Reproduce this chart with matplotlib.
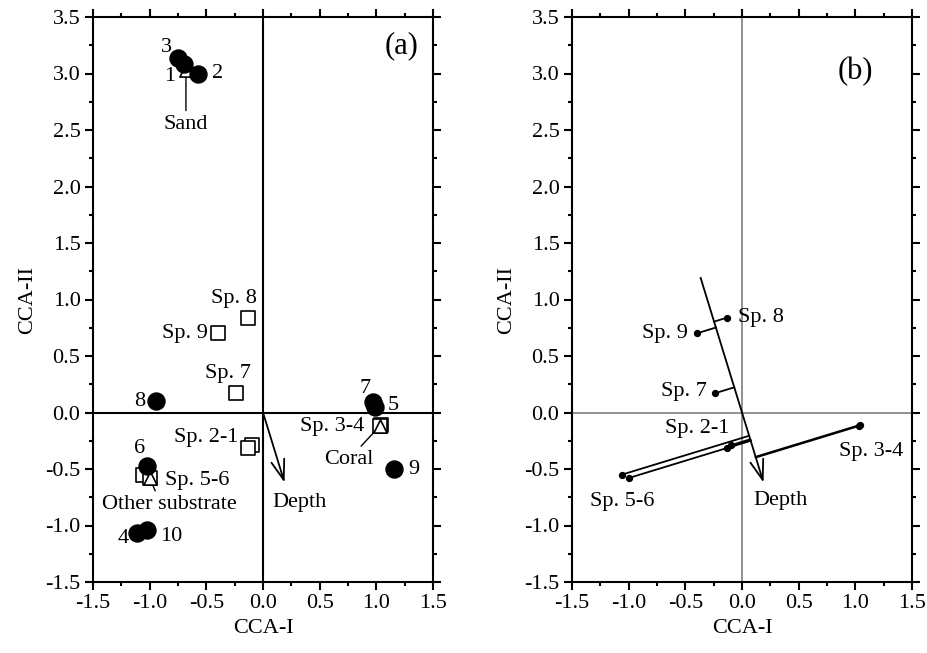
import numpy as np
import matplotlib.pyplot as plt
from matplotlib.ticker import MultipleLocator

plt.rcParams['font.family'] = ['Liberation Serif', 'DejaVu Serif']
plt.rcParams['font.size'] = 16

# site scores (filled circles)
site_names = ['1', '2', '3', '4', '5', '6', '7', '8', '9', '10']
site_x = [-0.70, -0.57, -0.75, -1.11, 0.99, -1.02, 0.97, -0.94, 1.16, -1.02]
site_y = [3.08, 3.00, 3.14, -1.07, 0.05, -0.47, 0.09, 0.10, -0.50, -1.04]

# species scores
sp_names = ['Sp. 1', 'Sp. 2', 'Sp. 3', 'Sp. 4', 'Sp. 5', 'Sp. 6', 'Sp. 7', 'Sp. 8', 'Sp. 9']
sp_x = [-0.10, -0.13, 1.04, 1.03, -1.06, -1.00, -0.24, -0.13, -0.40]
sp_y = [-0.29, -0.31, -0.11, -0.12, -0.55, -0.58, 0.17, 0.84, 0.70]

# substrate centroids
sub_names = ['Sand', 'Coral', 'Other substrate']
sub_x = [-0.68, 1.03, -1.00]
sub_y = [3.03, -0.12, -0.58]

# depth biplot vector
depth_vec = (0.19, -0.62)
depth_back = -1.92   # extension of the depth axis beyond the origin in (b)

fig = plt.figure(figsize=(9.28, 6.53), dpi=100)
ax_a = fig.add_axes([93 / 928, 71 / 653, 340 / 928, 565 / 653])
ax_b = fig.add_axes([572 / 928, 71 / 653, 340 / 928, 565 / 653])

for ax in (ax_a, ax_b):
    ax.set_xlim(-1.5, 1.5)
    ax.set_ylim(-1.5, 3.5)
    ax.xaxis.set_major_locator(MultipleLocator(0.5))
    ax.xaxis.set_minor_locator(MultipleLocator(0.25))
    ax.yaxis.set_major_locator(MultipleLocator(0.5))
    ax.yaxis.set_minor_locator(MultipleLocator(0.25))
    ax.xaxis.set_major_formatter(lambda v, p: f'{v:.1f}')
    ax.yaxis.set_major_formatter(lambda v, p: f'{v:.1f}')
    ax.tick_params(which='both', direction='out', top=True, right=True,
                   width=1.5, labelsize=16, pad=3)
    ax.tick_params(which='major', length=6)
    ax.tick_params(which='minor', length=3)
    for s in ax.spines.values():
        s.set_linewidth(1.5)
    ax.set_xlabel('CCA-I', fontsize=16, labelpad=4)
    ax.set_ylabel('CCA-II', fontsize=16, labelpad=6)


def label(ax, text, x, y, dx, dy, ha='center'):
    ax.annotate(text, (x, y), xytext=(dx, dy), textcoords='offset points',
                ha=ha, va='center', fontsize=16)


arrow_style = '->,head_length=0.9,head_width=0.3'

# ---------- (a) ----------
ax_a.axhline(0, color='black', lw=1.5, zorder=1)
ax_a.axvline(0, color='black', lw=1.5, zorder=1)

ax_a.scatter(sp_x, sp_y, marker='s', s=110, facecolor='white',
             edgecolor='black', linewidth=1.2, zorder=3)
ax_a.scatter(sub_x, sub_y, marker='^', s=90, facecolor='white',
             edgecolor='black', linewidth=1.2, zorder=4)
ax_a.scatter(site_x, site_y, marker='o', s=150, color='black', zorder=5)

site_off = {'1': (-10, -9), '2': (14, 0), '3': (-8, 7), '4': (-10, -4),
            '5': (13, 1), '6': (-6, 12), '7': (-6, 10), '8': (-12, 0),
            '9': (14, 0), '10': (17, -5)}
for n, x, y in zip(site_names, site_x, site_y):
    dx, dy = site_off[n]
    label(ax_a, n, x, y, dx, dy)

label(ax_a, 'Sp. 8', sp_x[7], sp_y[7], -10, 14)
label(ax_a, 'Sp. 9', sp_x[8], sp_y[8], -7, 0, ha='right')
label(ax_a, 'Sp. 7', sp_x[6], sp_y[6], -6, 14)
label(ax_a, 'Sp. 2-1', sp_x[1], sp_y[1], -7, 7, ha='right')
label(ax_a, 'Sp. 5-6', sp_x[5], sp_y[5], 11, -2, ha='left')
label(ax_a, 'Sp. 3-4', sp_x[2], sp_y[2], -12, -1, ha='right')

# substrate labels with leader lines
sub_off = {'Sand': ((0, -39), (0.5, 1.0), 4),
           'Coral': ((-22, -24), (0.67, 1.0), 2),
           'Other substrate': ((14, -19), (0.41, 1.0), 0)}
for n, x, y in zip(sub_names, sub_x, sub_y):
    (dx, dy), rp, sb = sub_off[n]
    ax_a.annotate(n, (x, y), xytext=(dx, dy), textcoords='offset points',
                  ha='center', va='center', fontsize=16,
                  arrowprops=dict(arrowstyle='-', lw=1.0, color='black',
                                  shrinkA=1, shrinkB=sb, relpos=rp))

ax_a.annotate('', xy=depth_vec, xytext=(0, 0),
              arrowprops=dict(arrowstyle=arrow_style, lw=1.3, color='black',
                              shrinkA=0, shrinkB=0))
label(ax_a, 'Depth', depth_vec[0], depth_vec[1], 11, -14)
ax_a.text(0.909, 0.95, '(a)', transform=ax_a.transAxes, fontsize=22,
          ha='center', va='center')

# ---------- (b) ----------
ax_b.axhline(0, color='#888888', lw=1.3, zorder=1)
ax_b.axvline(0, color='#888888', lw=1.3, zorder=1)

d = np.array(depth_vec)
u = d / np.linalg.norm(d)
start = depth_back * d
ax_b.plot([start[0], 0], [start[1], 0], color='black', lw=1.3, zorder=2)
ax_b.annotate('', xy=depth_vec, xytext=(0, 0),
              arrowprops=dict(arrowstyle=arrow_style, lw=1.3, color='black',
                              shrinkA=0, shrinkB=0))

# perpendicular projection of each species onto the depth axis
for x, y in zip(sp_x, sp_y):
    p = np.dot([x, y], u) * u
    ax_b.plot([x, p[0]], [y, p[1]], color='black', lw=1.3, zorder=3)
ax_b.scatter(sp_x, sp_y, s=18, color='black', zorder=4)

label(ax_b, 'Sp. 8', sp_x[7], sp_y[7], 8, 0, ha='left')
label(ax_b, 'Sp. 9', sp_x[8], sp_y[8], -6, 0, ha='right')
label(ax_b, 'Sp. 7', sp_x[6], sp_y[6], -6, 1, ha='right')
label(ax_b, 'Sp. 2-1', sp_x[1], sp_y[1], -22, 14)
label(ax_b, 'Sp. 3-4', sp_x[2], sp_y[2], 8, -19)
label(ax_b, 'Sp. 5-6', sp_x[4], sp_y[4], 0, -19)
label(ax_b, 'Depth', depth_vec[0], depth_vec[1], 12, -13)
ax_b.text(0.832, 0.903, '(b)', transform=ax_b.transAxes, fontsize=22,
          ha='center', va='center')

fig.savefig('out.png', dpi=100)
